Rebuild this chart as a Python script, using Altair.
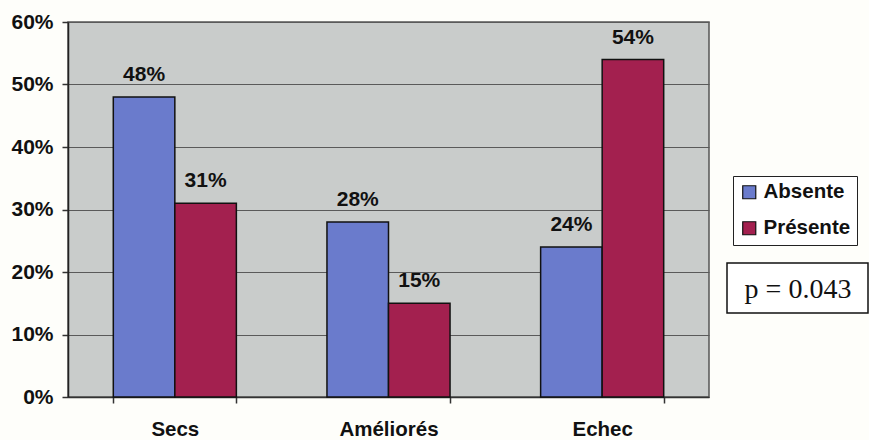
import altair as alt
import pandas as pd

# Outcome categories and the two groups compared
categories = ["Secs", "Améliorés", "Echec"]
groups = ["Absente", "Présente"]
absente = [0.48, 0.28, 0.24]
presente = [0.31, 0.15, 0.54]
p_label = "p = 0.043"

rows = []
for i, cat in enumerate(categories):
    rows.append({"categorie": cat, "groupe": groups[0], "valeur": absente[i]})
    rows.append({"categorie": cat, "groupe": groups[1], "valeur": presente[i]})
df = pd.DataFrame(rows)

BOLD = "Liberation Sans"
W, H = 641, 375

x = alt.X(
    "categorie:N",
    sort=categories,
    scale=alt.Scale(paddingInner=0.424, paddingOuter=0.212),
    axis=alt.Axis(
        title=None, labelAngle=0, labelFont=BOLD, labelFontWeight="bold",
        labelFontSize=20.5, labelColor="#111", labelPadding=16,
        tickBand="extent", tickSize=6, tickColor="#333", tickWidth=1.5,
        domainColor="#333", domainWidth=1.5, grid=False,
    ),
)
xo = alt.XOffset("groupe:N", sort=groups, scale=alt.Scale(paddingInner=0, paddingOuter=0))
y = alt.Y(
    "valeur:Q",
    scale=alt.Scale(domain=[0, 0.6], nice=False),
    axis=alt.Axis(
        title=None, format=".0%", values=[0, 0.1, 0.2, 0.3, 0.4, 0.5, 0.6],
        labelFont=BOLD, labelFontWeight="bold", labelFontSize=21,
        labelColor="#111", labelPadding=9, tickSize=6, tickColor="#333",
        tickWidth=1.5, domainColor="#222", domainWidth=1.5,
        gridColor="#5a5a5a", gridWidth=1,
    ),
)

color = alt.Color(
    "groupe:N",
    sort=groups,
    scale=alt.Scale(domain=groups, range=["#6a7bcc", "#a3204f"]),
    legend=alt.Legend(
        title=None, orient="none", legendX=665, legendY=154,
        symbolType="square", symbolSize=170, symbolStrokeColor="#111",
        symbolStrokeWidth=1.2, symbolOpacity=1,
        labelFont=BOLD, labelFontWeight="bold", labelFontSize=20.5,
        labelColor="#111", labelOffset=4, rowPadding=15,
        padding=6, strokeColor="#222", fillColor="#ffffff",
    ),
)

bars = alt.Chart(df).mark_bar(stroke="#111", strokeWidth=1.5).encode(
    x=x, xOffset=xo, y=y, color=color
)

labels = alt.Chart(df).mark_text(
    font=BOLD, fontWeight="bold", fontSize=21, color="#111",
    baseline="alphabetic", dy=-16,
).encode(
    x=alt.X("categorie:N", sort=categories),
    xOffset=alt.XOffset("groupe:N", sort=groups),
    y="valeur:Q",
    text=alt.Text("valeur:Q", format=".0%"),
)

note = pd.DataFrame({"texte": [p_label]})
note_box = alt.Chart(note).mark_rect(
    fill="#ffffff", stroke="#111", strokeWidth=1.5
).encode(
    x=alt.value(659), x2=alt.value(800), y=alt.value(241), y2=alt.value(291)
)
note_text = alt.Chart(note).mark_text(
    font="Liberation Serif", fontSize=28, color="#111", baseline="middle"
).encode(
    x=alt.value(730), y=alt.value(268), text="texte:N"
)

chart = (
    alt.layer(bars, labels, note_box, note_text)
    .properties(
        width=W, height=H,
        autosize=alt.AutoSizeParams(type="none"),
        padding={"left": 68, "top": 22, "right": 160, "bottom": 43},
        background="#fefefa",
    )
    .configure_view(fill="#c9cccb", stroke="#555", strokeWidth=1.5)
)

chart.save("out.html", embed_options={"renderer": "svg", "actions": False})
